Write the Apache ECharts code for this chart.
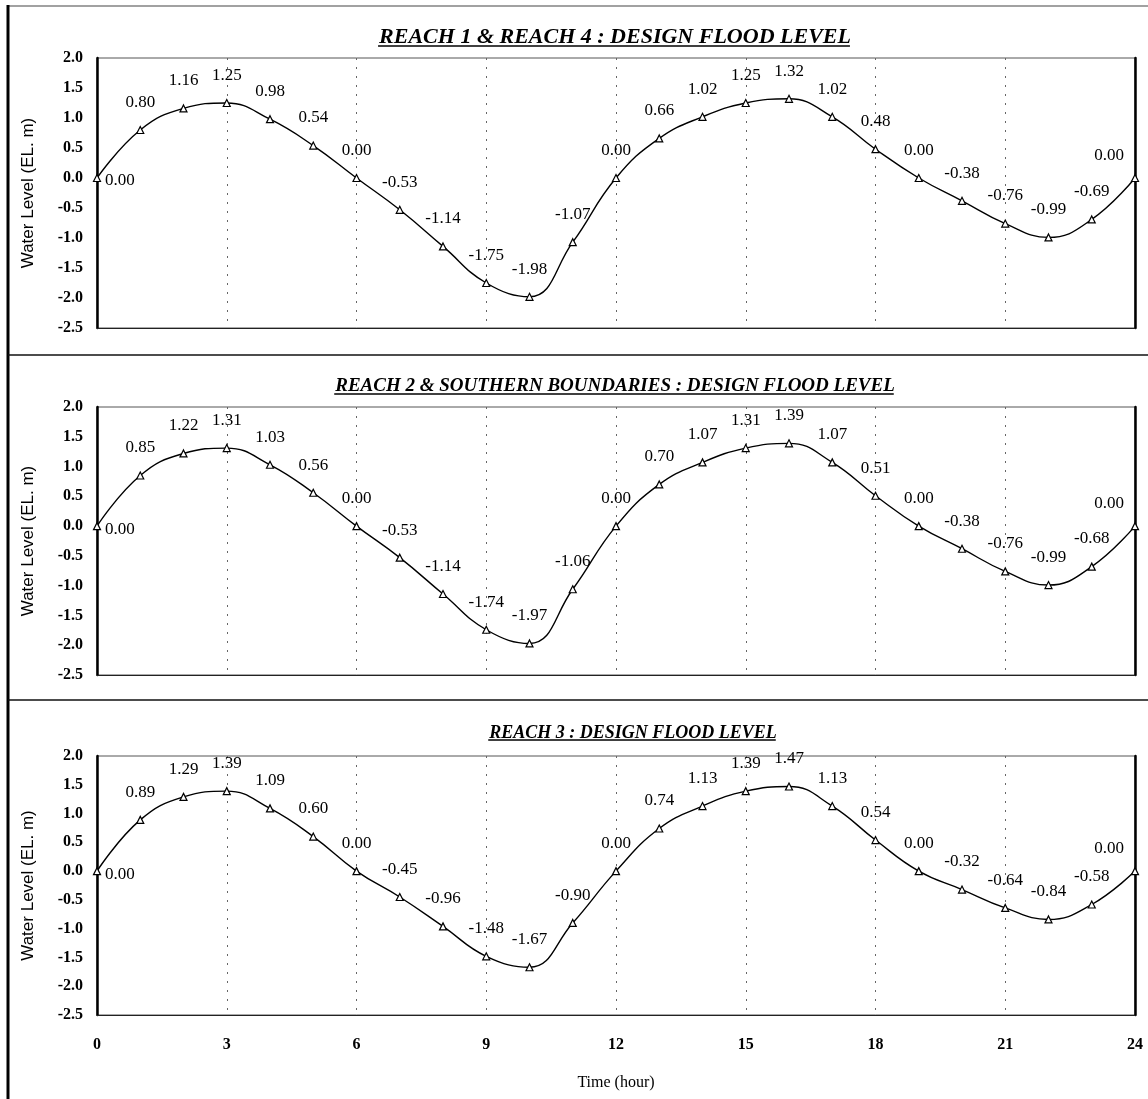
<!DOCTYPE html>
<html>
<head>
<meta charset="utf-8">
<script src="https://cdn.jsdelivr.net/npm/echarts@6/dist/echarts.min.js"></script>
<style>
html,body{margin:0;padding:0;background:#fff;}
#chart{width:1148px;height:1099px;}
</style>
</head>
<body>
<div id="chart"></div>
<script>
// ---- data ----
const hours = [0,1,2,3,4,5,6,7,8,9,10,11,12,13,14,15,16,17,18,19,20,21,22,23,24];
const reach14 = [0.00,0.80,1.16,1.25,0.98,0.54,0.00,-0.53,-1.14,-1.75,-1.98,-1.07,0.00,0.66,1.02,1.25,1.32,1.02,0.48,0.00,-0.38,-0.76,-0.99,-0.69,0.00];
const reach2 = [0.00,0.85,1.22,1.31,1.03,0.56,0.00,-0.53,-1.14,-1.74,-1.97,-1.06,0.00,0.70,1.07,1.31,1.39,1.07,0.51,0.00,-0.38,-0.76,-0.99,-0.68,0.00];
const reach3 = [0.00,0.89,1.29,1.39,1.09,0.60,0.00,-0.45,-0.96,-1.48,-1.67,-0.90,0.00,0.74,1.13,1.39,1.47,1.13,0.54,0.00,-0.32,-0.64,-0.84,-0.58,0.00];
const panelTitles = [
  'REACH 1 & REACH 4 : DESIGN FLOOD LEVEL',
  'REACH 2 & SOUTHERN BOUNDARIES : DESIGN FLOOD LEVEL',
  'REACH 3 : DESIGN FLOOD LEVEL'
];
const yAxisName = 'Water Level (EL. m)';
const xAxisName = 'Time (hour)';
const yMin = -2.5, yMax = 2.0, yStep = 0.5;
const xMin = 0, xMax = 24, xStep = 3;

// ---- layout ----
const serif = '"Liberation Serif","Times New Roman",serif';
const sans = '"Liberation Sans",Arial,sans-serif';
const gridsLayout = [
  {top: 58, height: 270, titleY: 21, titleSize: 22, titleX: 610},
  {top: 407, height: 268, titleY: 372, titleSize: 19, titleX: 610},
  {top: 756, height: 259, titleY: 719, titleSize: 18, titleX: 628}
];
const gridLeft = 97, gridRight = 13;

const seriesData = [reach14, reach2, reach3];

function measure(text, font) {
  const c = document.createElement('canvas').getContext('2d');
  c.font = font;
  return c.measureText(text).width;
}

const grids = [], xAxes = [], yAxes = [], series = [], titles = [], graphics = [];
gridsLayout.forEach((g, i) => {
  grids.push({left: gridLeft, right: gridRight, top: g.top, height: g.height,
    show: true, borderColor: '#555', borderWidth: 1, backgroundColor: 'transparent'});
  const last = i === 2;
  xAxes.push({
    type: 'value', gridIndex: i, min: xMin, max: xMax, interval: xStep,
    axisLine: {show: true, onZero: false, lineStyle: {color: '#222', width: 1.2}},
    axisTick: {show: false},
    axisLabel: {show: last, color: '#000', fontFamily: serif, fontSize: 16, fontWeight: 'bold', margin: 22},
    splitLine: {show: true, lineStyle: {color: '#666', width: 1, type: [2, 7]}},
    name: last ? xAxisName : '', nameLocation: 'middle', nameGap: 60,
    nameTextStyle: {color: '#000', fontFamily: serif, fontSize: 16}
  });
  yAxes.push({
    type: 'value', gridIndex: i, min: yMin, max: yMax, interval: yStep, position: 'left',
    axisLine: {show: true, onZero: false, lineStyle: {color: '#000', width: 2.5}},
    axisTick: {show: false},
    axisLabel: {color: '#000', fontFamily: serif, fontSize: 16, fontWeight: 'bold', margin: 14,
      formatter: v => v.toFixed(1)},
    splitLine: {show: false},
    name: yAxisName, nameLocation: 'middle', nameGap: 60, nameRotate: 90,
    nameTextStyle: {color: '#000', fontFamily: sans, fontSize: 17}
  });
  yAxes.push({
    type: 'value', gridIndex: i, min: yMin, max: yMax, interval: yStep, position: 'right',
    axisLine: {show: true, onZero: false, lineStyle: {color: '#000', width: 2.5}},
    axisTick: {show: false}, axisLabel: {show: false}, splitLine: {show: false}
  });
  const vals = seriesData[i];
  const data = hours.map((h, k) => {
    const item = {value: [h, vals[k]]};
    if (k === 0) item.label = {position: 'right', distance: 4, offset: [0, 3]};
    if (k === hours.length - 1) item.label = {position: 'top', distance: 10, offset: [-26, 0]};
    return item;
  });
  series.push({
    type: 'line', xAxisIndex: i, yAxisIndex: i * 2, data: data,
    smooth: 0.45, symbol: 'triangle', symbolSize: 7, showAllSymbol: true,
    lineStyle: {color: '#000', width: 1.4},
    itemStyle: {color: '#fff', borderColor: '#000', borderWidth: 1.2},
    label: {show: true, position: 'top', distance: 15, color: '#000',
      fontFamily: serif, fontSize: 17,
      formatter: p => p.value[1].toFixed(2)},
    emphasis: {disabled: true}, animation: false, z: 3
  });
  titles.push({
    text: panelTitles[i], left: g.titleX, top: g.titleY, textAlign: 'center',
    textStyle: {fontFamily: serif, fontSize: g.titleSize, fontWeight: 'bold', fontStyle: 'italic', color: '#000'}
  });
  const w = measure(panelTitles[i], 'italic bold ' + g.titleSize + 'px ' + serif);
  const uy = g.titleY + g.titleSize + 3;
  const cx = g.titleX + 4;
  graphics.push({type: 'line', silent: true,
    shape: {x1: cx - w / 2, y1: uy, x2: cx + w / 2, y2: uy},
    style: {stroke: '#000', lineWidth: 1.5}});
});

// frame lines
graphics.push({type: 'line', silent: true, shape: {x1: 8, y1: 6, x2: 1148, y2: 6}, style: {stroke: '#444', lineWidth: 1.2}});
graphics.push({type: 'line', silent: true, shape: {x1: 8, y1: 5, x2: 8, y2: 1099}, style: {stroke: '#000', lineWidth: 3}});
graphics.push({type: 'line', silent: true, shape: {x1: 8, y1: 355, x2: 1148, y2: 355}, style: {stroke: '#111', lineWidth: 1.5}});
graphics.push({type: 'line', silent: true, shape: {x1: 8, y1: 700, x2: 1148, y2: 700}, style: {stroke: '#111', lineWidth: 1.5}});

const chart = echarts.init(document.getElementById('chart'), null, {renderer: 'canvas'});
chart.setOption({
  animation: false,
  backgroundColor: '#fff',
  title: titles,
  grid: grids,
  xAxis: xAxes,
  yAxis: yAxes,
  series: series,
  graphic: graphics
});
</script>
</body>
</html>
